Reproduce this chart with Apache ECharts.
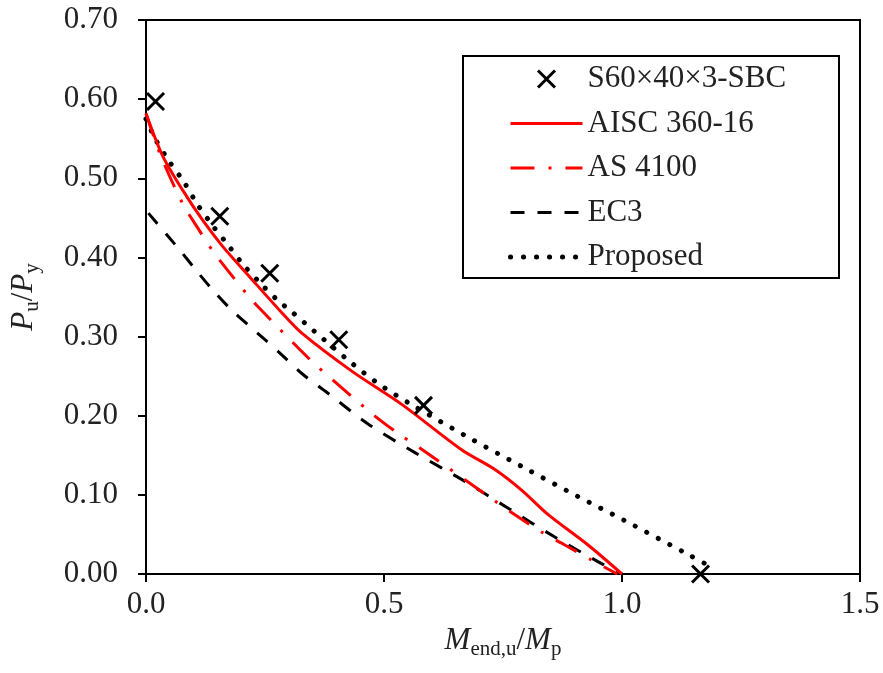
<!DOCTYPE html>
<html>
<head>
<meta charset="utf-8">
<script src="https://cdn.jsdelivr.net/npm/echarts@6/dist/echarts.min.js"></script>
<style>
  html, body { margin: 0; padding: 0; background: #fff; }
  #chart { width: 883px; height: 673px; }
</style>
</head>
<body>
<div id="chart"></div>
<script>
// test points (M_end,u/M_p , P_u/P_y)
var testPoints = [[0.020, 0.597], [0.155, 0.452], [0.260, 0.380], [0.405, 0.296], [0.583, 0.213], [1.165, 0.0]];

// design curves
var aiscCurve = [[0, 0.582], [0.036, 0.527], [0.077, 0.485], [0.119, 0.447], [0.161, 0.414], [0.217, 0.376],
  [0.287, 0.329], [0.328, 0.304], [0.433, 0.256], [0.538, 0.214], [0.663, 0.157], [0.733, 0.132],
  [0.789, 0.106], [0.845, 0.075], [0.928, 0.037], [1.0, 0]];
var as4100Curve = [[0, 0.582], [0.03, 0.53], [0.077, 0.468], [0.109, 0.437], [0.144, 0.405], [0.217, 0.35],
  [0.238, 0.336], [0.346, 0.27], [0.412, 0.235], [0.478, 0.201], [0.531, 0.177], [0.576, 0.159],
  [0.729, 0.094], [0.775, 0.075], [0.831, 0.053], [0.879, 0.037], [0.935, 0.018], [0.99, 0]];
var ec3Curve = [[0.005, 0.456], [0.07, 0.41], [0.105, 0.384], [0.14, 0.359], [0.179, 0.334], [0.25, 0.296],
  [0.287, 0.276], [0.328, 0.253], [0.381, 0.229], [0.468, 0.189], [0.566, 0.153], [0.67, 0.117],
  [0.761, 0.083], [0.858, 0.047], [0.956, 0.0135], [1.0, 0]];
var proposedCurve = [[0, 0.575], [0.02, 0.549], [0.048, 0.522], [0.079, 0.496], [0.107, 0.468], [0.139, 0.441],
  [0.172, 0.416], [0.204, 0.391], [0.241, 0.367], [0.28, 0.344], [0.301, 0.334], [0.423, 0.271],
  [0.487, 0.241], [0.555, 0.215], [0.67, 0.175], [0.789, 0.136], [0.907, 0.098], [1.004, 0.068],
  [1.144, 0.023], [1.193, 0.007]];

var seriesNames = ['S60×40×3-SBC', 'AISC 360-16', 'AS 4100', 'EC3', 'Proposed'];

var FONT = 'Liberation Serif';
var TXT = '#222';
var CROSS = 'path://M0,0L10,10M10,0L0,10';

var nameRich = {
  i: { fontFamily: FONT, fontStyle: 'italic', fontSize: 31, color: TXT },
  n: { fontFamily: FONT, fontSize: 31, color: TXT },
  s: { fontFamily: FONT, fontSize: 21, color: TXT, padding: [18, 0, 0, 0] }
};

var hideDot = { opacity: 0 };

var chart = echarts.init(document.getElementById('chart'));

var option = {
  animation: false,
  backgroundColor: '#fff',
  grid: {
    left: 143, right: 23, top: 20, bottom: 99,
    show: true, borderColor: '#000', borderWidth: 2, backgroundColor: 'transparent'
  },
  graphic: [{
    type: 'rect', z: 3,
    shape: { x: 463, y: 56, width: 376, height: 222 },
    style: { fill: '#fff', stroke: '#000', lineWidth: 2 }
  }],
  legend: {
    orient: 'vertical',
    left: 508, top: 62,
    padding: 0,
    itemWidth: 72, itemHeight: 17, itemGap: 10.5,
    textStyle: { fontFamily: FONT, fontSize: 31, color: TXT, lineHeight: 34 },
    lineStyle: { width: 'inherit' },
    data: [
      { name: seriesNames[0], icon: CROSS,
        itemStyle: { color: 'rgba(0,0,0,0)', borderColor: '#000', borderWidth: 3, opacity: 1 } },
      { name: seriesNames[1], itemStyle: hideDot },
      { name: seriesNames[2], itemStyle: hideDot },
      { name: seriesNames[3], itemStyle: hideDot },
      { name: seriesNames[4], itemStyle: hideDot }
    ]
  },
  xAxis: {
    type: 'value', min: 0, max: 1.5, interval: 0.5,
    name: '{i|M}{s|end,u}{n|/}{i|M}{s|p}',
    nameLocation: 'middle', nameGap: 43,
    nameTextStyle: { rich: nameRich },
    axisLine: { lineStyle: { color: '#000', width: 2 } },
    axisTick: { show: true, inside: false, length: 8, lineStyle: { color: '#000', width: 2 } },
    axisLabel: { margin: 15, fontFamily: FONT, fontSize: 31, color: TXT,
      formatter: function (v) { return v.toFixed(1); } },
    splitLine: { show: false }
  },
  yAxis: {
    type: 'value', min: 0, max: 0.7, interval: 0.1,
    name: '{i|P}{s|u}{n|/}{i|P}{s|y}',
    nameLocation: 'middle', nameGap: 103, nameRotate: 90,
    nameTextStyle: { rich: nameRich },
    axisLine: { lineStyle: { color: '#000', width: 2 } },
    axisTick: { show: true, inside: false, length: 8, lineStyle: { color: '#000', width: 2 } },
    axisLabel: { margin: 28, fontFamily: FONT, fontSize: 31, color: TXT,
      formatter: function (v) { return v.toFixed(2); } },
    splitLine: { show: false }
  },
  series: [
    {
      name: seriesNames[4], type: 'line', data: proposedCurve,
      symbol: 'none', z: 2, smooth: 0.3,
      itemStyle: { color: '#000' },
      lineStyle: { color: '#000', width: 5, type: [0.1, 12.9], cap: 'round' }
    },
    {
      name: seriesNames[3], type: 'line', data: ec3Curve,
      symbol: 'none', z: 2, smooth: 0.3,
      itemStyle: { color: '#000' },
      lineStyle: { color: '#000', width: 3, type: [14, 13] }
    },
    {
      name: seriesNames[2], type: 'line', data: as4100Curve,
      symbol: 'none', z: 2, smooth: 0.3,
      itemStyle: { color: '#ff0000' },
      lineStyle: { color: '#ff0000', width: 3, type: [24, 14, 3, 14] }
    },
    {
      name: seriesNames[1], type: 'line', data: aiscCurve,
      symbol: 'none', z: 2, smooth: 0.3,
      itemStyle: { color: '#ff0000' },
      lineStyle: { color: '#ff0000', width: 3, type: 'solid' }
    },
    {
      name: seriesNames[0], type: 'scatter', data: testPoints,
      symbol: CROSS, symbolSize: 17, clip: false, z: 5,
      itemStyle: { color: 'rgba(0,0,0,0)', borderColor: '#000', borderWidth: 3, opacity: 1 }
    }
  ]
};

chart.setOption(option);
</script>
</body>
</html>
